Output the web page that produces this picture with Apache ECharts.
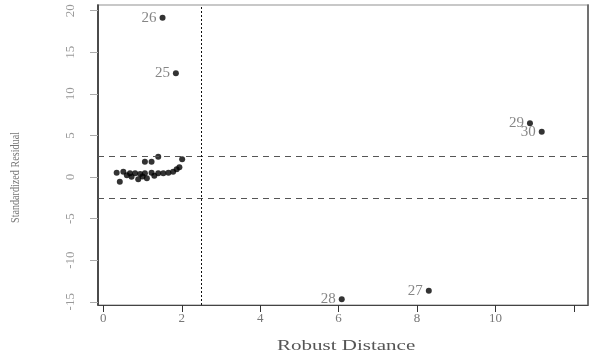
<!DOCTYPE html>
<html>
<head>
<meta charset="utf-8">
<script src="https://cdn.jsdelivr.net/npm/echarts@6/dist/echarts.min.js"></script>
<style>
html,body{margin:0;padding:0;background:#fff;}
#chart{width:589px;height:360px;}
</style>
</head>
<body>
<div id="chart"></div>
<script>
// robust distance vs standardized residual
var clusterX = [0.34,0.51,0.68,0.81,0.94,1.06,1.23,1.40,1.53,1.66,1.78,1.87,1.94,0.42,0.89,1.11,0.72,1.06,1.23,1.40,2.01,0.60,1.00,1.30];
var clusterY = [0.52,0.64,0.44,0.44,0.36,0.44,0.52,0.44,0.44,0.52,0.64,0.93,1.17,-0.57,-0.28,-0.16,0.04,1.84,1.84,2.44,2.13,0.20,0.05,0.15];
var outlierIds = ['25','26','27','28','29','30'];
var outlierX = [1.85,1.51,8.30,6.08,10.88,11.18];
var outlierY = [12.47,19.15,-13.67,-14.70,6.46,5.45];
var xTicks = [0,2,4,6,8,10,12];
var xLabels = [0,2,4,6,8,10];
var yTicks = [-15,-10,-5,0,5,10,15,20];
var cutoff = 2.5;

var serif = 'Liberation Serif';
var chart = echarts.init(document.getElementById('chart'));

var cluster = [];
for(var i=0;i<clusterX.length;i++) cluster.push([clusterX[i],clusterY[i]]);
var outl = [];
for(var i=0;i<outlierX.length;i++) outl.push({value:[outlierX[i],outlierY[i]],name:outlierIds[i]});

var option = {
	backgroundColor:'#fff',
	animation:false,
	grid:{left:98,right:1,top:5,bottom:55,show:true,borderColor:'#c8c8c8',borderWidth:2},
	xAxis:{
		type:'value',min:-0.136,max:12.36,
		axisLine:{show:true,onZero:false,lineStyle:{color:'#444',width:1}},
		axisTick:{show:true,customValues:xTicks,length:7,lineStyle:{color:'#333'}},
		axisLabel:{customValues:xLabels,margin:7,fontFamily:serif,fontSize:13,color:'#777'},
		splitLine:{show:false}
	},
	yAxis:[{
		type:'value',min:-15.39,max:20.68,
		axisLine:{show:true,onZero:false,lineStyle:{color:'#222',width:1.5}},
		axisTick:{show:true,customValues:yTicks,length:8,lineStyle:{color:'#aaa'}},
		axisLabel:{customValues:yTicks,rotate:90,margin:21,fontFamily:serif,fontSize:13,color:'#999'},
		splitLine:{show:false}
	},{
		type:'value',min:-15.39,max:20.68,position:'right',
		axisLine:{show:true,onZero:false,lineStyle:{color:'#555',width:1.5}},
		axisTick:{show:false},axisLabel:{show:false},splitLine:{show:false}
	}],
	graphic:[
		{type:'text',x:277,y:339,style:{text:'Robust Distance',font:'15px '+serif,fill:'#555'},scaleX:1.4},
		{type:'text',x:9,y:223,rotation:Math.PI/2,style:{text:'Standardized Residual',font:'13px '+serif,fill:'#777'},scaleX:0.78}
	],
	series:[{
		type:'scatter',data:cluster,symbolSize:6,
		itemStyle:{color:'#000'},
		markLine:{
			silent:true,symbol:'none',label:{show:false},
			data:[
				{yAxis:cutoff,lineStyle:{type:[6,5],color:'#555',width:1}},
				{yAxis:-cutoff,lineStyle:{type:[6,5],color:'#555',width:1}},
				{xAxis:cutoff,lineStyle:{type:[2,2],color:'#111',width:1}}
			]
		}
	},{
		type:'scatter',data:outl,symbolSize:6,
		itemStyle:{color:'#000'},
		label:{show:true,position:'left',distance:3,formatter:function(p){return p.name;},fontFamily:serif,fontSize:15,color:'#666'}
	}]
};
chart.setOption(option);
</script>
</body>
</html>
